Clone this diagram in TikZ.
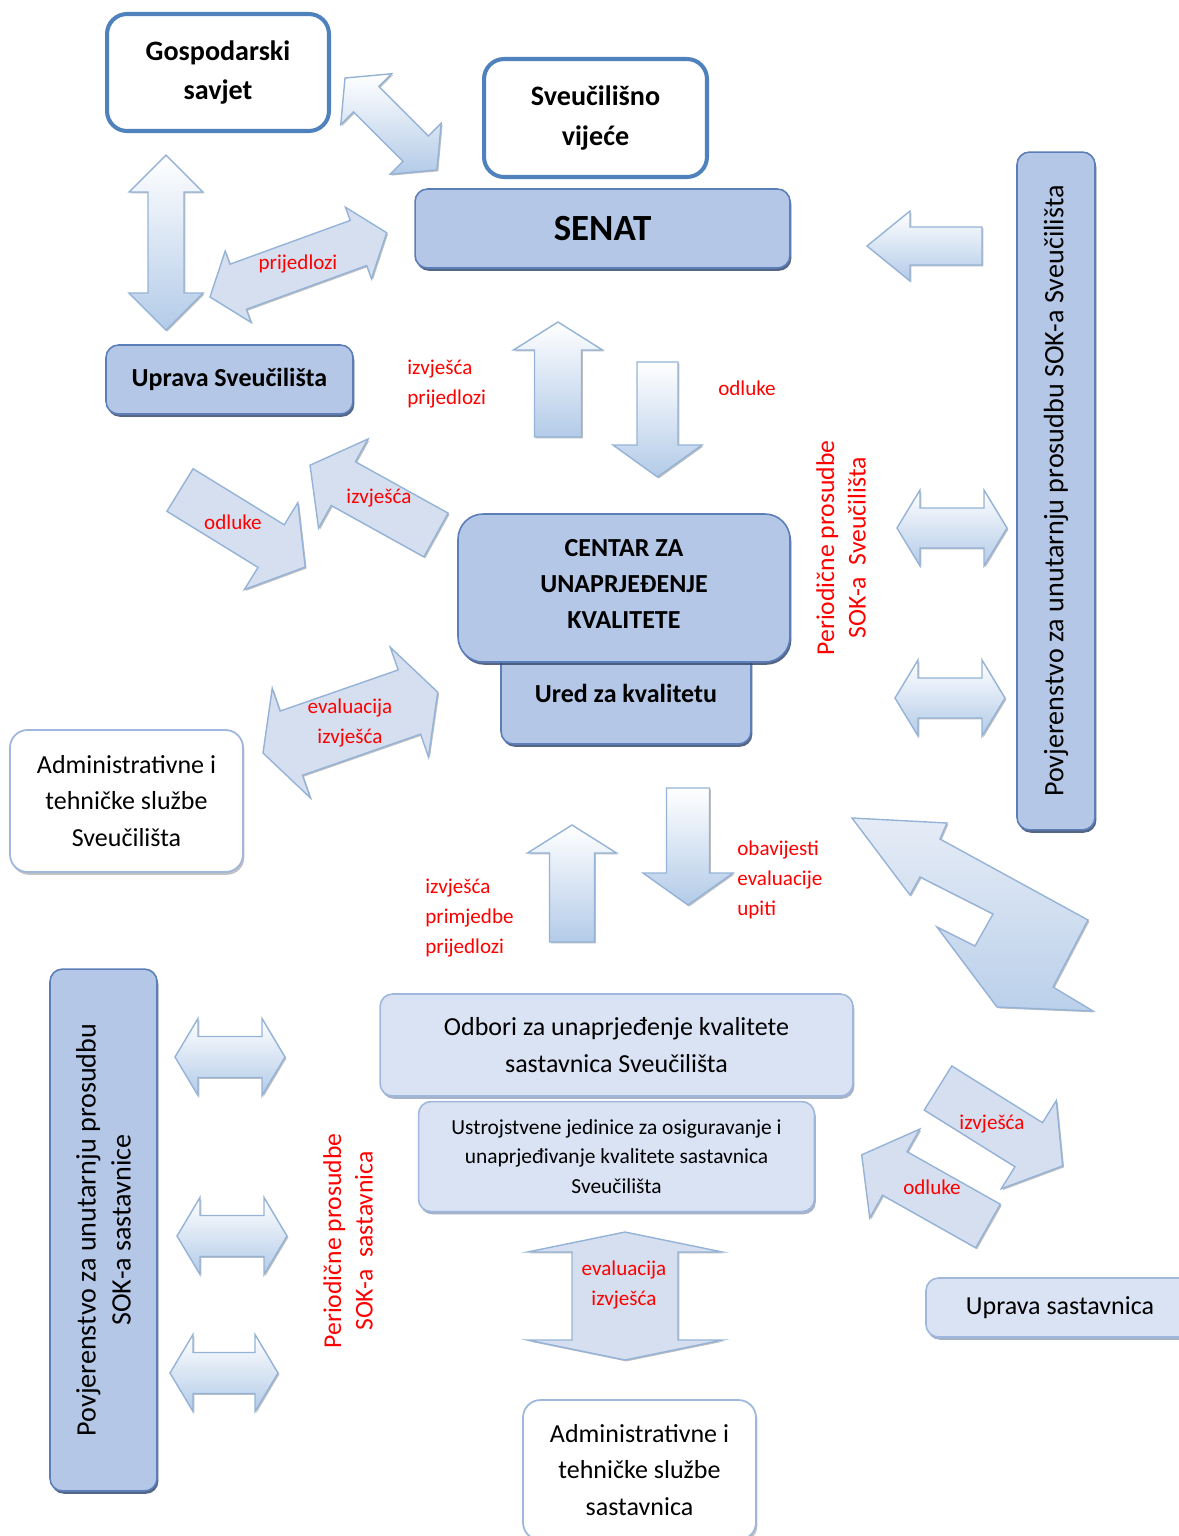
\documentclass[tikz,border=0pt]{standalone}
\usepackage{fontspec}
\setmainfont{Carlito}
\usetikzlibrary{positioning,shadows}
\definecolor{boxblue}{HTML}{B4C7E7}
\definecolor{boxline}{HTML}{5B7DB8}
\definecolor{paleblue}{HTML}{DAE3F3}
\definecolor{paleline}{HTML}{9FB7DC}
\definecolor{ringblue}{HTML}{4F81BD}
\definecolor{arrowline}{HTML}{95B3D7}
\definecolor{arrowfill}{HTML}{D5DFF0}
\definecolor{arrowdeep}{HTML}{B3CBE8}

% block arrows: style, name, start, angle, length, half shaft, half head, head length
\newcommand{\onearrow}[8]{%
  \begin{scope}[shift={(#3)},rotate=#4]
    \path[#1] (0,-#6) -- ({#5-#8},-#6) -- ({#5-#8},-#7) -- (#5,0)
      -- ({#5-#8},#7) -- ({#5-#8},#6) -- (0,#6) -- cycle;
    \coordinate (#2) at ({#5/2},0);
  \end{scope}}
\newcommand{\twoarrow}[8]{%
  \begin{scope}[shift={(#3)},rotate=#4]
    \path[#1] (0,0) -- (#8,-#7) -- (#8,-#6) -- ({#5-#8},-#6) -- ({#5-#8},-#7)
      -- (#5,0) -- ({#5-#8},#7) -- ({#5-#8},#6) -- (#8,#6) -- (#8,#7) -- cycle;
    \coordinate (#2) at ({#5/2},0);
  \end{scope}}

\begin{document}
\begin{tikzpicture}[x=0.02cm,y=-0.02cm,
  every node/.style={inner sep=0pt},
  ringbox/.style={draw=ringblue, line width=2.3pt, fill=white, rounded corners=0.4cm,
    align=center, font=\bfseries\fontsize{16}{22.5}\selectfont},
  darkbox/.style={draw=boxline, line width=0.9pt, fill=boxblue, rounded corners=0.25cm,
    align=center, font=\bfseries\fontsize{14.8}{20.5}\selectfont,
    drop shadow={shadow xshift=0.8pt,shadow yshift=-1.6pt,fill=boxline!60!black,opacity=.85}},
  palebox/.style={draw=paleline, line width=0.9pt, fill=paleblue, rounded corners=0.25cm,
    align=center, font=\fontsize{14.8}{21.5}\selectfont,
    drop shadow={shadow xshift=0.8pt,shadow yshift=-1.6pt,fill=paleline!80!black,opacity=.7}},
  whitebox/.style={draw=paleline, line width=1pt, fill=white, rounded corners=0.35cm,
    align=center, font=\fontsize{14.8}{21}\selectfont,
    drop shadow={shadow xshift=0.8pt,shadow yshift=-1.6pt,fill=black!40,opacity=.6}},
  arrowshadow/.style={drop shadow={shadow xshift=0.8pt,shadow yshift=-0.8pt,fill=black,opacity=.25}},
  gradarrow/.style={draw=arrowline, line width=0.8pt, arrowshadow, top color=white, bottom color=arrowdeep},
  flatarrow/.style={draw=arrowline, line width=0.8pt, arrowshadow, fill=arrowfill},
  lbl/.style={text=red, align=center, font=\fontsize{12}{17}\selectfont},
  sidelbl/.style={text=red, align=center, rotate=90, font=\fontsize{14.6}{18}\selectfont}]

\useasboundingbox (0,0) rectangle (1178,1536);

% boxes
\node[ringbox, minimum width=4.44cm, minimum height=2.34cm] (gosp)   at (218,72.5) {Gospodarski\\savjet};
\node[ringbox, minimum width=4.46cm, minimum height=2.36cm] (vijece) at (595.5,118) {Sveučilišno\\vijeće};
\node[darkbox, minimum width=7.5cm, minimum height=1.58cm,
      font=\bfseries\fontsize{21}{25}\selectfont] (senat) at (602.5,228.5) {SENAT};
\node[darkbox, minimum width=4.94cm, minimum height=1.38cm] (uprava) at (229.5,379.5) {Uprava Sveučilišta};
\node[darkbox, minimum width=5cm, minimum height=2.04cm] (ured) at (626,693) {Ured za kvalitetu};
\node[darkbox, minimum width=6.64cm, minimum height=2.96cm, rounded corners=0.5cm] (centar) at (624,588) {};
\node[align=center, font=\bfseries\fontsize{14.8}{20.5}\selectfont] (centartxt) at (624,584)
     {CENTAR ZA\\UNAPRJEĐENJE\\KVALITETE};
\node[darkbox, minimum width=1.56cm, minimum height=13.56cm] (povsv) at (1056,491) {};
\node[rotate=90, font=\fontsize{16}{20}\selectfont] (povsvtxt) at (povsv)
     {Povjerenstvo za unutarnju prosudbu SOK-a Sveučilišta};
\node[whitebox, minimum width=4.66cm, minimum height=2.84cm] (adminsv) at (126.5,801)
     {Administrativne i\\tehničke službe\\Sveučilišta};
\node[palebox, minimum width=9.46cm, minimum height=2.04cm] (odbori) at (616.5,1045)
     {Odbori za unaprjeđenje kvalitete\\sastavnica Sveučilišta};
\node[palebox, minimum width=7.92cm, minimum height=2.2cm, below=0.08cm of odbori,
      font=\fontsize{12.2}{17}\selectfont] (ustroj)
     {Ustrojstvene jedinice za osiguravanje i\\unaprjeđivanje kvalitete sastavnica\\Sveučilišta};
\node[palebox, minimum width=5.36cm, minimum height=1.18cm] (uprsast) at (1060,1307.5) {Uprava sastavnica};
\node[whitebox, minimum width=4.66cm, minimum height=2.8cm] (adminsast) at (639.5,1470)
     {Administrativne i\\tehničke službe\\sastavnica};
\node[darkbox, minimum width=2.14cm, minimum height=10.44cm] (povsast) at (103.5,1230) {};
\node[rotate=90, align=center, font=\fontsize{16}{20}\selectfont] (povsasttxt) at (povsast)
     {Povjerenstvo za unutarnju prosudbu\\SOK-a sastavnice};

% block arrows
\twoarrow{gradarrow}{gsarr}{345,78}{-45}{130}{18}{36}{30}
\twoarrow{gradarrow}{guarr}{166,155}{-90}{175}{18}{37}{37}
\twoarrow{flatarrow}{usarr}{210,297}{20}{188}{24}{38}{30}
\onearrow{gradarrow}{povarr}{982,246}{180}{115}{19}{35}{43}
\onearrow{gradarrow}{uparr}{558,437}{90}{115}{23.5}{44.5}{28}
\onearrow{gradarrow}{downarr}{657.5,362}{-90}{115}{20.5}{44.5}{32}
\onearrow{flatarrow}{odlarr}{180,490}{-31.6}{147}{25}{51}{40}
\onearrow{flatarrow}{izvarr}{436,535}{151}{144}{25}{51}{38}
\twoarrow{flatarrow}{evalarr}{263,753}{19.2}{185}{34}{58}{30}
\twoarrow{gradarrow}{perarra}{897,528}{0}{110}{20}{38}{23}
\twoarrow{gradarrow}{perarrb}{895,698}{0}{110}{20}{38}{23}
\path[gradarrow, top color=arrowfill!60, bottom color=arrowdeep!90]
  (852,818) -- (947,823) -- (940,839) -- (1088,920) -- (1053,987) -- (1093,1011)
  -- (997,1007) -- (937,927) -- (975,946) -- (993,914) -- (920,877) -- (910,895) -- cycle;
\onearrow{flatarrow}{izvsarr}{938,1088}{-32}{147}{26}{52}{40}
\onearrow{flatarrow}{odlsarr}{988,1226}{150.6}{145}{25}{51}{38}
\onearrow{gradarrow}{upsarr}{572,942}{90}{117}{22.5}{44.5}{28}
\onearrow{gradarrow}{downsarr}{688,788}{-90}{117}{21.5}{45}{32}
\twoarrow{gradarrow}{psarra}{175,1057}{0}{110}{20.5}{38.5}{23}
\twoarrow{gradarrow}{psarrb}{177,1236}{0}{110}{20.5}{38.5}{23}
\twoarrow{gradarrow}{psarrc}{170,1373}{0}{108}{20.5}{38.5}{23}
\twoarrow{flatarrow}{evalsarr}{625,1232}{-90}{128}{53}{97.5}{20}

% labels
\node[lbl] (l1)  at (298,264) {prijedlozi};
\node[lbl, align=left, anchor=west] (l2) at (407,384) {izvješća\\prijedlozi};
\node[lbl] (l3)  at (747,388) {odluke};
\node[lbl] (l4)  at (379,498) {izvješća};
\node[lbl] (l5)  at (233,522) {odluke};
\node[lbl] (l6)  at (350,723) {evaluacija\\izvješća};
\node[sidelbl] (l7) at (841,548) {Periodične prosudbe\\SOK-a \ Sveučilišta};
\node[lbl, align=left, anchor=west] (l8) at (425,918) {izvješća\\primjedbe\\prijedlozi};
\node[lbl, align=left, anchor=west] (l9) at (737,880) {obavijesti\\evaluacije\\upiti};
\node[lbl] (l10) at (992,1124) {izvješća};
\node[lbl] (l11) at (932,1187) {odluke};
\node[lbl] (l12) at (624,1285) {evaluacija\\izvješća};
\node[sidelbl] (l13) at (348,1241) {Periodične prosudbe\\SOK-a \ sastavnica};
\end{tikzpicture}
\end{document}
